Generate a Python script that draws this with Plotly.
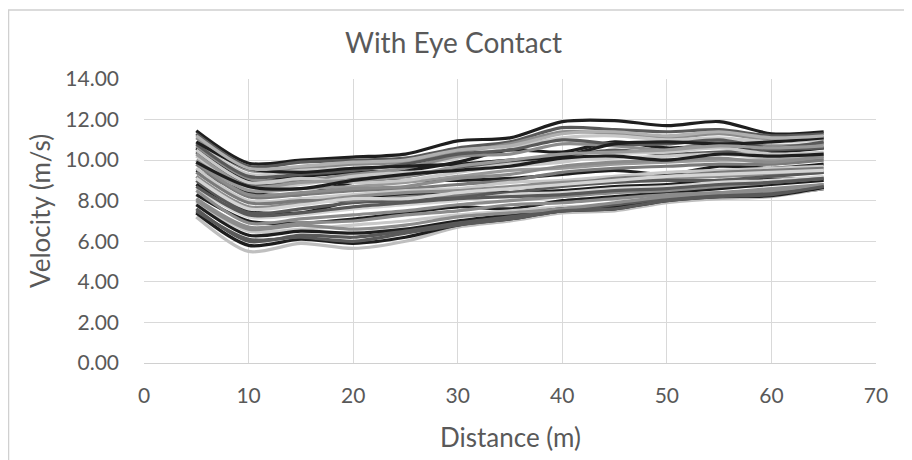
import plotly.graph_objects as go

distance = [5, 10, 15, 20, 25, 30, 35, 40, 45, 50, 55, 60, 65]

series = [
    [11.45, 9.85, 10.0, 10.15, 10.3, 10.95, 11.1, 11.9, 11.95, 11.7, 11.9, 11.3, 11.4],
    [11.3, 9.7, 9.9, 10.0, 10.1, 10.6, 10.9, 11.6, 11.5, 11.4, 11.5, 11.2, 11.3],
    [11.1, 9.5, 9.6, 9.8, 9.9, 10.4, 10.8, 11.4, 11.3, 11.1, 11.3, 11.0, 11.1],
    [10.9, 9.3, 9.5, 9.6, 9.7, 10.1, 10.6, 11.1, 11.2, 11.0, 11.1, 10.9, 11.0],
    [10.6, 9.0, 9.2, 9.4, 9.5, 9.9, 10.5, 10.4, 10.9, 10.6, 10.7, 10.4, 10.6],
    [10.7, 9.1, 9.0, 9.3, 9.6, 10.2, 10.3, 10.8, 10.7, 10.5, 10.9, 10.7, 10.8],
    [10.4, 8.8, 8.9, 9.1, 9.2, 9.6, 9.9, 10.2, 10.5, 10.3, 10.4, 10.5, 10.6],
    [10.2, 8.6, 8.8, 9.2, 9.4, 9.5, 9.8, 10.0, 10.1, 10.2, 10.3, 10.1, 10.3],
    [9.5, 8.4, 8.3, 8.9, 9.0, 9.0, 9.1, 9.3, 9.5, 9.3, 9.7, 9.6, 9.8],
    [10.0, 8.5, 8.6, 8.7, 8.9, 9.2, 9.5, 9.6, 9.8, 9.9, 10.0, 10.0, 10.1],
    [9.8, 8.2, 8.3, 8.5, 8.6, 8.8, 9.0, 9.4, 9.6, 9.7, 9.8, 9.8, 10.0],
    [9.6, 8.0, 8.1, 8.3, 8.5, 8.6, 8.9, 9.0, 9.2, 9.4, 9.5, 9.6, 9.7],
    [8.8, 7.5, 7.4, 8.0, 8.3, 8.4, 8.4, 8.5, 8.7, 8.8, 9.0, 9.05, 9.1],
    [9.2, 7.7, 7.9, 8.2, 8.4, 8.5, 8.7, 8.9, 9.0, 9.1, 9.2, 9.3, 9.4],
    [9.0, 7.4, 7.6, 7.9, 8.0, 8.2, 8.4, 8.7, 8.9, 9.0, 9.0, 9.2, 9.4],
    [8.6, 7.2, 7.3, 7.6, 7.8, 8.0, 8.3, 8.4, 8.6, 8.7, 8.9, 9.0, 9.2],
    [8.3, 7.0, 6.9, 7.1, 7.4, 7.7, 7.6, 8.0, 8.2, 8.4, 8.6, 8.8, 9.0],
    [8.1, 6.7, 6.9, 7.0, 7.3, 7.5, 7.8, 7.9, 8.1, 8.3, 8.4, 8.6, 8.8],
    [7.9, 6.5, 6.6, 6.8, 7.0, 7.3, 7.5, 7.7, 7.8, 8.1, 8.3, 8.4, 8.7],
    [7.8, 6.3, 6.5, 6.4, 6.6, 7.0, 7.3, 7.6, 7.7, 8.0, 8.2, 8.3, 8.6],
    [7.2, 5.5, 5.9, 5.65, 6.0, 6.7, 7.0, 7.4, 7.5, 7.9, 8.1, 8.2, 8.6],
    [7.4, 5.8, 6.1, 5.9, 6.2, 6.8, 7.1, 7.5, 7.6, 8.0, 8.2, 8.25, 8.65],
    [7.6, 6.0, 6.3, 6.2, 6.5, 6.9, 7.2, 7.5, 7.8, 8.1, 8.3, 8.4, 8.7],
    [8.5, 6.9, 7.1, 7.3, 7.5, 7.8, 8.0, 8.2, 8.4, 8.5, 8.7, 8.9, 9.1],
    [9.4, 7.9, 8.0, 8.0, 8.2, 8.3, 8.6, 8.8, 9.1, 9.2, 9.4, 9.5, 9.6],
    [10.5, 8.9, 9.1, 8.9, 9.0, 9.4, 9.7, 9.9, 10.3, 10.4, 10.6, 10.3, 10.4],
    [10.8, 9.2, 9.3, 9.5, 9.8, 10.3, 10.5, 11.0, 10.8, 10.8, 11.0, 10.6, 10.9],
    [10.9, 9.6, 9.4, 9.6, 9.7, 9.8, 10.0, 10.2, 10.8, 10.9, 10.8, 10.9, 11.1],
    [11.2, 9.6, 9.7, 9.9, 10.0, 10.5, 10.7, 11.3, 11.4, 11.2, 11.4, 11.1, 11.2],
    [9.9, 8.3, 8.4, 8.6, 8.7, 9.1, 9.3, 9.7, 9.9, 10.0, 10.1, 9.9, 10.2],
    [8.7, 7.3, 7.4, 7.7, 7.9, 8.1, 8.2, 8.3, 8.5, 8.6, 8.8, 8.9, 9.1],
    [9.1, 7.6, 7.8, 8.1, 8.1, 8.4, 8.6, 8.8, 9.0, 9.2, 9.3, 9.4, 9.5],
    [10.3, 8.7, 8.9, 9.0, 9.2, 9.7, 10.0, 10.3, 10.4, 10.5, 10.7, 10.6, 10.7],
    [9.9, 8.7, 8.6, 9.0, 9.3, 9.5, 9.7, 10.1, 10.2, 10.0, 10.3, 10.2, 10.3],
    [8.0, 6.6, 6.8, 6.6, 6.8, 7.2, 7.4, 7.6, 7.9, 8.2, 8.4, 8.5, 8.8],
    [7.5, 6.1, 6.2, 6.0, 6.4, 6.8, 7.1, 7.5, 7.6, 8.0, 8.2, 8.3, 8.7],
]

colors = [
    "#1e1e1e", "#595959", "#8c8c8c", "#c8c8c8", "#1e1e1e", "#8c8c8c",
    "#595959", "#c8c8c8", "#1e1e1e", "#999999", "#7a7a7a", "#c8c8c8",
    "#1e1e1e", "#8c8c8c", "#595959", "#d4d4d4", "#1e1e1e", "#8c8c8c",
    "#c8c8c8", "#1e1e1e", "#bfbfbf", "#1e1e1e", "#595959", "#8c8c8c",
    "#7a7a7a", "#c8c8c8", "#595959", "#1e1e1e", "#b0b0b0", "#8c8c8c",
    "#595959", "#d4d4d4", "#999999", "#1e1e1e", "#8c8c8c", "#595959",
]

fig = go.Figure()
for vals, col in zip(series, colors):
    fig.add_trace(go.Scatter(
        x=distance, y=vals, mode="lines",
        line=dict(color=col, width=3.2, shape="spline", smoothing=0.8),
        showlegend=False, hoverinfo="skip",
    ))

font_family = "Lato, sans-serif"
text_color = "#595959"

# figure is 904x452 (page body margin of 8px surrounds it)
W, H = 904, 452
L, T, PW, PH = 136, 71, 732, 284

fig.update_layout(
    width=W, height=H,
    margin=dict(l=L, r=W - L - PW, t=T, b=H - T - PH),
    paper_bgcolor="white", plot_bgcolor="white",
    font=dict(family=font_family, color=text_color, size=21),
    xaxis=dict(range=[0, 70], tickvals=[0, 10, 20, 30, 40, 50, 60, 70],
               showgrid=True, gridcolor="#d9d9d9", gridwidth=1,
               zeroline=False, showline=True, linecolor="#d0d0d0", linewidth=1,
               ticks="", ticklabelstandoff=14,
               tickfont=dict(size=21, color=text_color)),
    yaxis=dict(range=[0, 14], tickvals=[0, 2, 4, 6, 8, 10, 12, 14], tickformat=".2f",
               showgrid=True, gridcolor="#d9d9d9", gridwidth=1,
               zeroline=False, showline=False,
               ticks="", ticklabelstandoff=24,
               tickfont=dict(size=21, color=text_color)),
    annotations=[
        dict(text="With Eye Contact", xref="paper", yref="paper",
             x=(445 - L) / PW, y=(T + PH - 34) / PH, xanchor="center", yanchor="middle",
             showarrow=False, font=dict(size=28, color=text_color)),
        dict(text="Distance (m)", xref="paper", yref="paper",
             x=0.5, y=(T + PH - 429) / PH, xanchor="center", yanchor="middle",
             showarrow=False, font=dict(size=26, color=text_color)),
        dict(text="Velocity (m/s)", xref="paper", yref="paper", textangle=-90,
             x=(32 - L) / PW, y=(T + PH - 203) / PH, xanchor="center", yanchor="middle",
             showarrow=False, font=dict(size=26, color=text_color)),
    ],
    shapes=[dict(type="rect", xref="paper", yref="paper",
                 x0=(0.5 - L) / PW, x1=(W + 20 - L) / PW,
                 y0=(T + PH - H - 20) / PH, y1=(T + PH - 2) / PH,
                 line=dict(color="#d0d0d0", width=1.5), layer="below")],
)

fig.write_html("out.html")
